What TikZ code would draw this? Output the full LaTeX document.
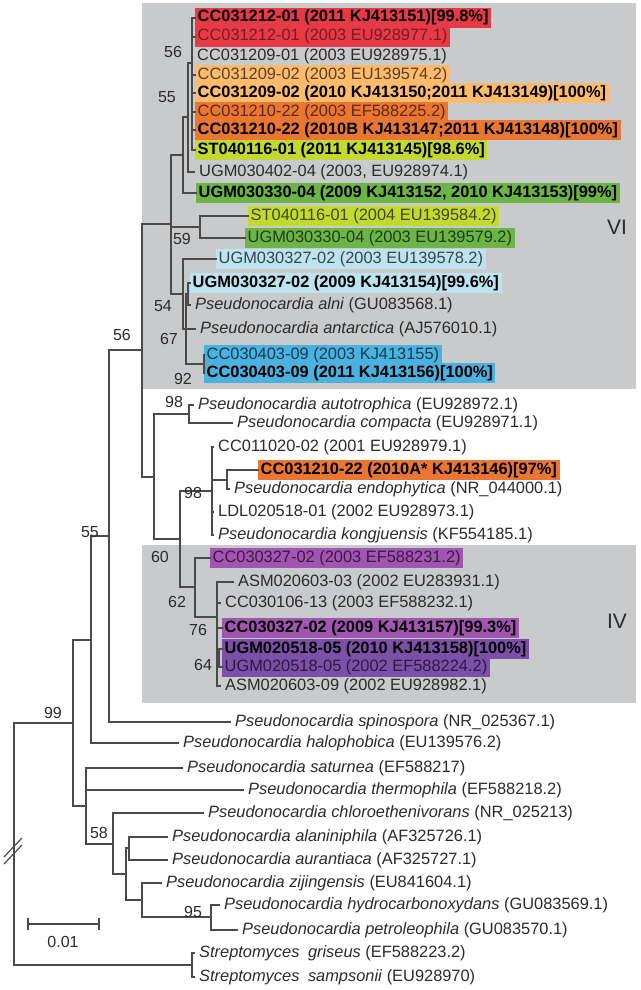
\documentclass[tikz,border=0pt]{standalone}
\usepackage{fontspec}
\setmainfont{Liberation Sans}
\definecolor{treeline}{HTML}{4A4A4A}
\definecolor{txt}{HTML}{2B2B2B}
\definecolor{cladebg}{HTML}{C9CACC}
\definecolor{cRed}{HTML}{E63B47}
\definecolor{cLtOrange}{HTML}{FDBB6B}
\definecolor{cOrange}{HTML}{EB7632}
\definecolor{cYellow}{HTML}{C3D930}
\definecolor{cGreen}{HTML}{6CB445}
\definecolor{cLtBlue}{HTML}{BDE3EF}
\definecolor{cBlue}{HTML}{4BB1DF}
\definecolor{cPurple}{HTML}{A155B1}
\definecolor{cDkPurple}{HTML}{7D50A8}
\definecolor{tRed}{HTML}{7A1A20}
\definecolor{tLtOrange}{HTML}{5A4025}
\definecolor{tOrange}{HTML}{5A2A10}
\definecolor{tYellow}{HTML}{404A12}
\definecolor{tGreen}{HTML}{1F3D14}
\definecolor{tLtBlue}{HTML}{36474D}
\definecolor{tBlue}{HTML}{143C55}
\definecolor{tPurple}{HTML}{3E1649}
\definecolor{tDkPurple}{HTML}{2C1A45}
\tikzset{
  leaf/.style={anchor=west, inner xsep=5pt, inner ysep=1.75pt, text height=12pt, text depth=4pt,
    font=\fontsize{16.4}{19}\selectfont, text=txt},
  hl/.style={leaf, inner xsep=2.5pt, fill=#1},
  boldtxt/.style={font=\fontsize{16.4}{19}\selectfont\bfseries, text=black},
  branch/.style={draw=treeline, line width=1.2pt, line cap=rect},
  boot/.style={font=\fontsize{16}{18}\selectfont, text=txt, inner sep=0pt},
  cladelabel/.style={font=\fontsize{21}{24}\selectfont, text=txt, inner sep=0pt},
  cladebox/.style={fill=cladebg, draw=none},
}
\begin{document}
\begin{tikzpicture}[x=1pt,y=-1pt]
\useasboundingbox (0,0) rectangle (640,990);
% clade backgrounds
\fill[cladebox] (142,3) rectangle (636,389);
\fill[cladebox] (142,545) rectangle (636,703);
\node[cladelabel] (VI) at (617,227) {VI};
\node[cladelabel] (IV) at (617,621) {IV};

% leaves
\node[hl=cRed, boldtxt] (r1) at (195,18) {CC031212-01 (2011 KJ413151)[99.8\%]};
\node[hl=cRed, text=tRed] (r2) at (195,37) {CC031212-01 (2003 EU928977.1)};
\node[leaf] (r3) at (192,56) {CC031209-01 (2003 EU928975.1)};
\node[hl=cLtOrange, text=tLtOrange] (r4) at (195,75) {CC031209-02 (2003 EU139574.2)};
\node[hl=cLtOrange, boldtxt] (r5) at (195,93) {CC031209-02 (2010 KJ413150;2011 KJ413149)[100\%]};
\node[hl=cOrange, text=tOrange] (r6) at (195,112) {CC031210-22 (2003 EF588225.2)};
\node[hl=cOrange, boldtxt] (r7) at (195,130) {CC031210-22 (2010B KJ413147;2011 KJ413148)[100\%]};
\node[hl=cYellow, boldtxt] (r8) at (195,150) {ST040116-01 (2011 KJ413145)[98.6\%]};
\node[leaf] (r9) at (194,172) {UGM030402-04 (2003, EU928974.1)};
\node[hl=cGreen, boldtxt] (r10) at (196,193) {UGM030330-04 (2009 KJ413152, 2010 KJ413153)[99\%]};
\node[hl=cYellow, text=tYellow] (r11) at (248,216) {ST040116-01 (2004 EU139584.2)};
\node[hl=cGreen, text=tGreen] (r12) at (245,238) {UGM030330-04 (2003 EU139579.2)};
\node[hl=cLtBlue, text=tLtBlue] (r13) at (216,259) {UGM030327-02 (2003 EU139578.2)};
\node[hl=cLtBlue, boldtxt] (r14) at (190,283) {UGM030327-02 (2009 KJ413154)[99.6\%]};
\node[leaf] (r15) at (190,305) {\textit{Pseudonocardia alni} (GU083568.1)};
\node[leaf] (r16) at (195,329) {\textit{Pseudonocardia antarctica} (AJ576010.1)};
\node[hl=cBlue, text=tBlue] (r17) at (204,355) {CC030403-09 (2003 KJ413155)};
\node[hl=cBlue, boldtxt] (r18) at (204,373) {CC030403-09 (2011 KJ413156)[100\%]};
\node[leaf] (r19) at (193,405) {\textit{Pseudonocardia autotrophica} (EU928972.1)};
\node[leaf] (r20) at (232,423) {\textit{Pseudonocardia compacta} (EU928971.1)};
\node[leaf] (r21) at (213,447) {CC011020-02 (2001 EU928979.1)};
\node[hl=cOrange, boldtxt] (r22) at (258,470) {CC031210-22 (2010A* KJ413146)[97\%]};
\node[leaf] (r23) at (229,489) {\textit{Pseudonocardia endophytica} (NR\_044000.1)};
\node[leaf] (r24) at (213,512) {LDL020518-01 (2002 EU928973.1)};
\node[leaf] (r25) at (213,535) {\textit{Pseudonocardia kongjuensis} (KF554185.1)};
\node[hl=cPurple, text=tPurple] (r26) at (210,558) {CC030327-02 (2003 EF588231.2)};
\node[leaf] (r27) at (233,582) {ASM020603-03 (2002 EU283931.1)};
\node[leaf] (r28) at (220,603) {CC030106-13 (2003 EF588232.1)};
\node[hl=cPurple, boldtxt] (r29) at (222,628) {CC030327-02 (2009 KJ413157)[99.3\%]};
\node[hl=cDkPurple, boldtxt] (r30) at (222,649) {UGM020518-05 (2010 KJ413158)[100\%]};
\node[hl=cDkPurple, text=tDkPurple] (r31) at (222,667) {UGM020518-05 (2002 EF588224.2)};
\node[leaf] (r32) at (220,686) {ASM020603-09 (2002 EU928982.1)};
\node[leaf] (r33) at (230,722) {\textit{Pseudonocardia spinospora} (NR\_025367.1)};
\node[leaf] (r34) at (178,743) {\textit{Pseudonocardia halophobica} (EU139576.2)};
\node[leaf] (r35) at (182,768) {\textit{Pseudonocardia saturnea} (EF588217)};
\node[leaf] (r36) at (243,790) {\textit{Pseudonocardia thermophila} (EF588218.2)};
\node[leaf] (r37) at (203,813) {\textit{Pseudonocardia chloroethenivorans} (NR\_025213)};
\node[leaf] (r38) at (167,837) {\textit{Pseudonocardia alaniniphila} (AF325726.1)};
\node[leaf] (r39) at (167,860) {\textit{Pseudonocardia aurantiaca} (AF325727.1)};
\node[leaf] (r40) at (161,883) {\textit{Pseudonocardia zijingensis} (EU841604.1)};
\node[leaf] (r41) at (219,905) {\textit{Pseudonocardia hydrocarbonoxydans} (GU083569.1)};
\node[leaf] (r42) at (237,930) {\textit{Pseudonocardia petroleophila} (GU083570.1)};
\node[leaf] (r43) at (194,953) {\textit{Streptomyces\hspace{4pt} griseus} (EF588223.2)};
\node[leaf] (r44) at (194,977) {\textit{Streptomyces\hspace{4pt} sampsonii} (EU928970)};

% internal nodes
\coordinate (nA) at (192,63);
\coordinate (nB) at (188,117);
\coordinate (nC) at (183,155);
\coordinate (nL59) at (200,227);
\coordinate (nM) at (188,294);
\coordinate (nN) at (204,364);
\coordinate (nQ) at (186,329);
\coordinate (nP) at (183,294);
\coordinate (nD) at (171,224);
\coordinate (nG) at (189,414);
\coordinate (nJ) at (227,480);
\coordinate (nX) at (212,491);
\coordinate (nL) at (219,658);
\coordinate (nK) at (217,617);
\coordinate (nI) at (195,587);
\coordinate (nH) at (180,539);
\coordinate (nF) at (154,477);
\coordinate (nE) at (142,350);
\coordinate (nG55) at (109,536);
\coordinate (nN91) at (91,640);
\coordinate (nW) at (211,917);
\coordinate (nV) at (142,900);
\coordinate (nU) at (129,848);
\coordinate (nT) at (126,874);
\coordinate (nT58) at (113,844);
\coordinate (nS) at (86,806);
\coordinate (nN99) at (73,723);
\coordinate (nSt) at (192,965);
\coordinate (nR) at (14,723);

% branches
\draw[branch] (nA |- r1.west) -- (nA |- r8.west);
\foreach \r in {r1,r2,r3,r4,r5,r6,r7,r8} \draw[branch] (nA |- \r.west) -- (\r.west);
\draw[branch] (nB |- nA) -- (nB |- r9.west);
\draw[branch] (nB |- nA) -- (nA);
\draw[branch] (nB |- r9.west) -- (r9.west);
\draw[branch] (nC |- nB) -- (nC |- r10.west);
\draw[branch] (nC |- nB) -- (nB);
\draw[branch] (nC |- r10.west) -- (r10.west);
\draw[branch] (nL59 |- r11.west) -- (nL59 |- r12.west);
\draw[branch] (nL59 |- r11.west) -- (r11.west);
\draw[branch] (nL59 |- r12.west) -- (r12.west);
\draw[branch] (nM |- r14.west) -- (nM |- r15.west);
\draw[branch] (nM |- r14.west) -- (r14.west);
\draw[branch] (nM |- r15.west) -- (r15.west);
\draw[branch] (nN |- r17.west) -- (nN |- r18.west);
\draw[branch] (nN |- r17.west) -- (r17.west);
\draw[branch] (nN |- r18.west) -- (r18.west);
\draw[branch] (nQ |- nM) -- (nQ |- nN);
\draw[branch] (nQ |- nM) -- (nM);
\draw[branch] (nQ |- r16.west) -- (r16.west);
\draw[branch] (nQ |- nN) -- (nN);
\draw[branch] (nP |- r13.west) -- (nP |- nQ);
\draw[branch] (nP |- r13.west) -- (r13.west);
\draw[branch] (nP |- nQ) -- (nQ);
\draw[branch] (nD |- nC) -- (nD |- nP);
\draw[branch] (nD |- nC) -- (nC);
\draw[branch] (nD |- nL59) -- (nL59);
\draw[branch] (nD |- nP) -- (nP);
\draw[branch] (nG |- r19.west) -- (nG |- r20.west);
\draw[branch] (nG |- r19.west) -- (r19.west);
\draw[branch] (nG |- r20.west) -- (r20.west);
\draw[branch] (nJ |- r22.west) -- (nJ |- r23.west);
\draw[branch] (nJ |- r22.west) -- (r22.west);
\draw[branch] (nJ |- r23.west) -- (r23.west);
\draw[branch] (nX |- r21.west) -- (nX |- r25.west);
\foreach \r in {r21,r24,r25} \draw[branch] (nX |- \r.west) -- (\r.west);
\draw[branch] (nX |- nJ) -- (nJ);
\draw[branch] (nL |- r30.west) -- (nL |- r31.west);
\draw[branch] (nL |- r30.west) -- (r30.west);
\draw[branch] (nL |- r31.west) -- (r31.west);
\draw[branch] (nK |- r27.west) -- (nK |- r32.west);
\foreach \r in {r27,r28,r29,r32} \draw[branch] (nK |- \r.west) -- (\r.west);
\draw[branch] (nK |- nL) -- (nL);
\draw[branch] (nI |- r26.west) -- (nI |- nK);
\draw[branch] (nI |- r26.west) -- (r26.west);
\draw[branch] (nI |- nK) -- (nK);
\draw[branch] (nH |- nX) -- (nH |- nI);
\draw[branch] (nH |- nX) -- (nX);
\draw[branch] (nH |- nI) -- (nI);
\draw[branch] (nF |- nG) -- (nF |- nH);
\draw[branch] (nF |- nG) -- (nG);
\draw[branch] (nF |- nH) -- (nH);
\draw[branch] (nE |- nD) -- (nE |- nF);
\draw[branch] (nE |- nD) -- (nD);
\draw[branch] (nE |- nF) -- (nF);
\draw[branch] (nG55 |- nE) -- (nG55 |- r33.west);
\draw[branch] (nG55 |- nE) -- (nE);
\draw[branch] (nG55 |- r33.west) -- (r33.west);
\draw[branch] (nN91 |- nG55) -- (nN91 |- r34.west);
\draw[branch] (nN91 |- nG55) -- (nG55);
\draw[branch] (nN91 |- r34.west) -- (r34.west);
\draw[branch] (nW |- r41.west) -- (nW |- r42.west);
\draw[branch] (nW |- r41.west) -- (r41.west);
\draw[branch] (nW |- r42.west) -- (r42.west);
\draw[branch] (nV |- r40.west) -- (nV |- nW);
\draw[branch] (nV |- r40.west) -- (r40.west);
\draw[branch] (nV |- nW) -- (nW);
\draw[branch] (nU |- r38.west) -- (nU |- r39.west);
\draw[branch] (nU |- r38.west) -- (r38.west);
\draw[branch] (nU |- r39.west) -- (r39.west);
\draw[branch] (nT |- nU) -- (nT |- nV);
\draw[branch] (nT |- nU) -- (nU);
\draw[branch] (nT |- nV) -- (nV);
\draw[branch] (nT58 |- r37.west) -- (nT58 |- nT);
\draw[branch] (nT58 |- r37.west) -- (r37.west);
\draw[branch] (nT58 |- nT) -- (nT);
\draw[branch] (nS |- r35.west) -- (nS |- nT58);
\draw[branch] (nS |- r35.west) -- (r35.west);
\draw[branch] (nS |- r36.west) -- (r36.west);
\draw[branch] (nS |- nT58) -- (nT58);
\draw[branch] (nN99 |- nN91) -- (nN99 |- nS);
\draw[branch] (nN99 |- nN91) -- (nN91);
\draw[branch] (nN99 |- nS) -- (nS);
\draw[branch] (nSt |- r43.west) -- (nSt |- r44.west);
\draw[branch] (nSt |- r43.west) -- (r43.west);
\draw[branch] (nSt |- r44.west) -- (r44.west);
\draw[branch] (nR) -- (nR |- nSt);
\draw[branch] (nR) -- (nN99);
\draw[branch] (nR |- nSt) -- (nSt);

% break marks on root
\coordinate (bk1a) at (4,857); \coordinate (bk1b) at (22,838);
\coordinate (bk2a) at (4,864); \coordinate (bk2b) at (22,845);
\draw[branch, line cap=butt] (bk1a) -- (bk1b);
\draw[branch, line cap=butt] (bk2a) -- (bk2b);

% bootstrap values
\node[boot] (b1) at (173,52) {56};
\node[boot] (b2) at (167,97) {55};
\node[boot] (b3) at (182,239) {59};
\node[boot] (b4) at (163,306) {54};
\node[boot] (b5) at (169,339) {67};
\node[boot] (b6) at (183,379) {92};
\node[boot] (b7) at (122,335) {56};
\node[boot] (b8) at (174,402) {98};
\node[boot] (b9) at (193,493) {98};
\node[boot] (b10) at (160,557) {60};
\node[boot] (b11) at (177,602) {62};
\node[boot] (b12) at (198,630) {76};
\node[boot] (b13) at (203,665) {64};
\node[boot] (b14) at (90,532) {55};
\node[boot] (b15) at (53,713) {99};
\node[boot] (b16) at (99,833) {58};
\node[boot] (b17) at (193,912) {95};

% scale bar
\coordinate (sbL) at (28,924);
\coordinate (sbR) at (99,924);
\draw[branch, line cap=butt] (sbL) -- (sbR);
\draw[branch, line cap=butt] ([yshift=6pt]sbL) -- ([yshift=-6pt]sbL);
\draw[branch, line cap=butt] ([yshift=6pt]sbR) -- ([yshift=-6pt]sbR);
\node[boot] (sbt) at (63,942) {0.01};
\end{tikzpicture}
\end{document}
